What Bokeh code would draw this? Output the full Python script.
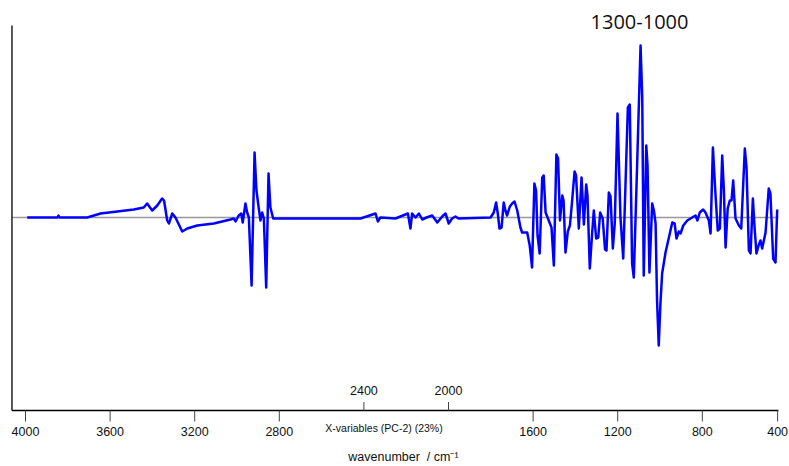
from bokeh.plotting import figure
from bokeh.models import Range1d, Label, ColumnDataSource
from bokeh.core.properties import value
from bokeh.embed import file_html
from bokeh.resources import INLINE

# PC-2 loading spectrum
wavenumber = [3992, 3849, 3844, 3839, 3708, 3645, 3566, 3488, 3441, 3425, 3401, 3377, 3354, 3345,
              3330, 3322, 3306, 3291, 3259, 3235, 3188, 3110, 3031, 3015, 3007, 2992, 2980, 2973,
              2960, 2952, 2944, 2931, 2917, 2908, 2897, 2889, 2881, 2873, 2862, 2851, 2842, 2829,
              2700, 2558, 2416, 2345, 2334, 2322, 2251, 2192, 2180, 2172, 2156, 2140, 2124, 2104,
              2077, 2053, 2030, 2014, 1999, 1983, 1967, 1953, 1801, 1786, 1775, 1767, 1759, 1749,
              1739, 1731, 1723, 1710, 1699, 1688, 1675, 1660, 1652, 1628, 1616, 1605, 1594, 1586,
              1579, 1569, 1557, 1550, 1541, 1526, 1513, 1502, 1490, 1482, 1473, 1462, 1456, 1447,
              1436, 1426, 1417, 1404, 1397, 1384, 1371, 1360, 1349, 1343, 1332, 1321, 1313, 1302,
              1292, 1283, 1271, 1260, 1253, 1242, 1234, 1223, 1214, 1201, 1187, 1174, 1152, 1143,
              1132, 1124, 1108, 1092, 1084, 1077, 1065, 1059, 1050, 1037, 1029, 1021, 1014, 1006,
              998, 990, 974, 958, 942, 931, 922, 911, 903, 890, 871, 848, 832, 823, 812, 796, 785,
              769, 761, 750, 738, 727, 717, 706, 698, 690, 680, 670, 662, 654, 643, 627, 616, 599,
              591, 580, 572, 561, 553, 544, 534, 525, 517, 501, 486, 478, 465, 454, 446]
loading = [0.000, 0.000, 0.002, 0.000, 0.000, 0.004, 0.006, 0.008, 0.010, 0.014, 0.007, 0.012, 0.019, 0.017,
           -0.003, -0.006, 0.004, 0.000, -0.014, -0.011, -0.008, -0.006, -0.002, -0.001, -0.004, 0.002, 0.004, -0.005,
           0.014, 0.005, 0.000, -0.068, 0.065, 0.027, 0.009, -0.003, 0.005, -0.001, -0.070, 0.044, 0.010, -0.001,
           -0.001, -0.001, -0.001, 0.004, -0.004, 0.000, -0.001, 0.004, -0.011, 0.004, 0.000, 0.004, -0.002, 0.000,
           0.002, -0.005, 0.001, 0.004, -0.006, -0.001, 0.001, -0.001, 0.000, 0.005, 0.015, 0.004, -0.011, -0.010,
           0.015, 0.007, 0.002, 0.011, 0.014, 0.016, 0.007, -0.010, -0.015, -0.015, -0.028, -0.050, 0.034, 0.027,
           -0.018, -0.036, 0.040, 0.042, 0.005, -0.003, -0.010, -0.048, 0.063, 0.059, -0.003, 0.022, 0.017, -0.035,
           -0.014, -0.008, 0.013, 0.046, 0.042, -0.011, 0.040, -0.007, 0.033, 0.022, -0.051, -0.016, 0.007, -0.021,
           -0.020, 0.005, -0.001, -0.032, -0.033, 0.025, 0.021, -0.031, -0.006, 0.104, 0.000, -0.041, 0.110, 0.113,
           -0.046, -0.060, 0.054, 0.172, 0.120, -0.058, 0.072, 0.052, -0.055, 0.014, 0.007, -0.006, -0.083, -0.128,
           -0.086, -0.056, -0.035, -0.020, -0.005, -0.006, -0.021, -0.014, -0.016, -0.008, -0.003, 0.000, 0.002, -0.003, 0.005, 0.008, 0.005,
           -0.003, -0.016, 0.070, 0.024, -0.013, -0.011, 0.062, 0.027, -0.030, 0.009, 0.017, 0.017, 0.037, -0.001, -0.008, -0.011, 0.069,
           0.050, -0.033, -0.036, 0.019, -0.010, -0.036, -0.028, -0.023, -0.031, -0.015, 0.029, 0.024, -0.041, -0.045, 0.008]

# Axis ticks of the picture.
# NOTE: in the reference the last bottom tick is labelled "400" but sits where the
# spacing of the other ticks (4000 ... 800) puts about 444 cm-1. It is drawn at 444
# with the label "400" so that the picture matches; the data are on the linear scale.
bottom_ticks = [4000, 3600, 3200, 2800, 1600, 1200, 800, 444]
bottom_labels = ["4000", "3600", "3200", "2800", "1600", "1200", "800", "400"]
inner_ticks = [2400, 2000]
inner_labels = ["2400", "2000"]

FONT = "Liberation Sans"
INK = "#111111"
TICK = "#444444"

# The axes are drawn with glyphs in data space (not Bokeh Axis models), because the
# reference places some texts (2400/2000, "X-variables ...") between the plot box
# and the bottom labels, where Bokeh's axes and Labels cannot reach.
X_LEFT, X_RIGHT = 4064, 440
Y_BOT, Y_TOP = -0.193, 0.192

p = figure(width=789, height=466, x_range=Range1d(4118.2, 387.8), y_range=Range1d(-0.249, 0.217),
           output_backend="svg", toolbar_location=None,
           x_axis_location=None, y_axis_location=None,
           min_border_left=0, min_border_right=0, min_border_top=0, min_border_bottom=0)
p.outline_line_color = None
p.grid.visible = False

# zero line
p.segment(x0=[X_LEFT], y0=[0], x1=[X_RIGHT], y1=[0], line_color="#999999", line_width=1.5)

# spectrum
p.line(wavenumber, loading, line_color="#0000ff", line_width=2.5, line_join="round")

# axis lines (left and bottom)
p.segment(x0=[X_LEFT, X_LEFT], y0=[Y_BOT, Y_BOT], x1=[X_LEFT, X_RIGHT], y1=[Y_TOP, Y_BOT],
          line_color="black", line_width=1.3)

# bottom ticks and labels
bsrc = ColumnDataSource(dict(x=bottom_ticks, lab=bottom_labels))
p.segment(x0="x", y0=Y_BOT, x1="x", y1=Y_BOT - 0.011, source=bsrc, line_color=TICK, line_width=1)
p.text(x="x", y=Y_BOT - 0.021, text="lab", source=bsrc, text_align="center", text_baseline="middle",
       text_font=value(FONT), text_font_size="12.5px", text_color=INK)

# inner ticks (2400, 2000) pointing up from the axis line
isrc = ColumnDataSource(dict(x=inner_ticks, lab=inner_labels))
p.segment(x0="x", y0=Y_BOT + 0.0085, x1="x", y1=Y_BOT, source=isrc, line_color=TICK, line_width=1)
p.text(x="x", y=Y_BOT + 0.020, text="lab", source=isrc, text_align="center", text_baseline="middle",
       text_font=value(FONT), text_font_size="12.5px", text_color=INK)

p.add_layout(Label(x=2305, y=-0.210, text="X-variables (PC-2) (23%)", text_align="center",
                   text_baseline="middle", text_font=FONT, text_font_size="10.5px",
                   text_color=INK))
p.add_layout(Label(x=2213, y=-0.2395, text="wavenumber\u00a0 / cm\u207b\u00b9", text_align="center",
                   text_baseline="middle", text_font=FONT, text_font_size="12.5px",
                   text_color=INK))
p.add_layout(Label(x=1097, y=0.196, text="1300-1000", text_align="center",
                   text_baseline="middle", text_font="Open Sans", text_font_size="20px",
                   text_color=INK))

open("out.html", "w").write(file_html(p, INLINE))
